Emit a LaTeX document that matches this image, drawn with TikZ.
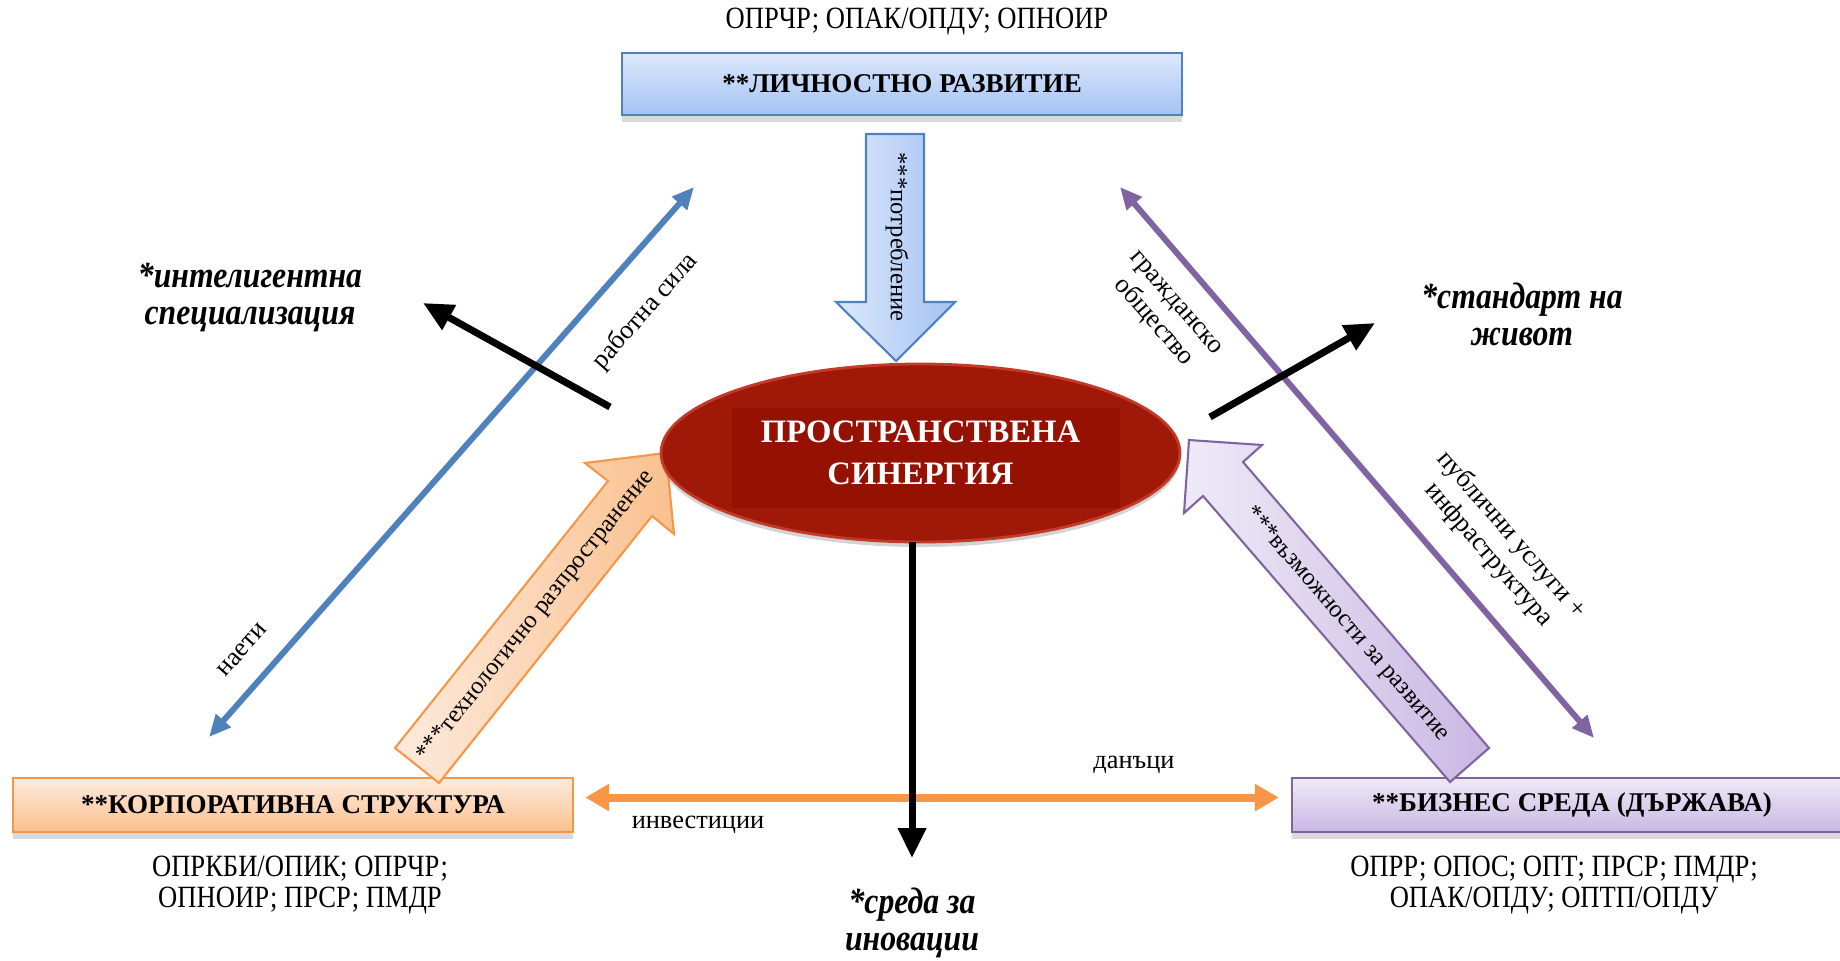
\documentclass[tikz,border=0pt]{standalone}
\usepackage{fontspec}
\setmainfont{Liberation Serif}
\newfontfamily\uzki{Liberation Serif}[FakeStretch=0.86]
\usetikzlibrary{arrows.meta,shapes.geometric,shadows}

\definecolor{blueline}{HTML}{4F81BD}
\definecolor{purpline}{HTML}{8064A2}
\definecolor{orline}{HTML}{F79646}
\definecolor{sinred}{HTML}{A01808}
\definecolor{sinredin}{HTML}{951102}
\definecolor{sinrim}{HTML}{C43A28}
\definecolor{bluetop}{HTML}{DDE8FB}
\definecolor{bluebot}{HTML}{A4C2F4}
\definecolor{ortop}{HTML}{FDEBDD}
\definecolor{orbot}{HTML}{FAC08E}
\definecolor{purtop}{HTML}{EFEAF7}
\definecolor{purbot}{HTML}{C9B8E3}

\tikzset{
  kutia/.style={draw, line width=0.7pt, minimum width=5.6cm, minimum height=0.54cm,
    inner sep=0pt, font=\fontsize{7.7}{9}\selectfont\bfseries,
    drop shadow={shadow xshift=0pt, shadow yshift=-0.07cm, opacity=0.3}},
  progtxt/.style={align=center, font=\fontsize{8.8}{8.6}\uzki},
  celtxt/.style={align=center, font=\fontsize{10.5}{10.5}\uzki\bfseries\itshape},
  etiket/.style={align=center, font=\fontsize{7.5}{8.5}\selectfont},
  strtxt/.style={font=\fontsize{7}{8}\selectfont},
  tanka/.style={line width=0.06cm, {Triangle[length=0.22cm,width=0.19cm]}-{Triangle[length=0.22cm,width=0.19cm]}},
  cherna/.style={line width=0.07cm, -{Triangle[length=0.3cm,width=0.27cm]}}
}

\begin{document}
\begin{tikzpicture}
\useasboundingbox (0,0) rectangle (18.4,9.6);
% boxes
\node[progtxt] (lprog) at (9.17,9.38) {ОПРЧР; ОПАК/ОПДУ; ОПНОИР};
\node[kutia, draw=blueline, top color=bluetop, bottom color=bluebot, minimum height=0.62cm] (lich) at (9.02,8.76) {**ЛИЧНОСТНО РАЗВИТИЕ};
\node[kutia, draw=orline, top color=ortop, bottom color=orbot] (korp) at (2.93,1.55) {**КОРПОРАТИВНА СТРУКТУРА};
\node[kutia, draw=purpline, top color=purtop, bottom color=purbot] (biz) at (15.72,1.55) {**БИЗНЕС СРЕДА (ДЪРЖАВА)};
\node[progtxt] (kprog) at (3.00,0.75) {ОПРКБИ/ОПИК; ОПРЧР;\\ОПНОИР; ПРСР; ПМДР};
\node[progtxt] (bprog) at (15.54,0.75) {ОПРР; ОПОС; ОПТ; ПРСР; ПМДР;\\ОПАК/ОПДУ; ОПТП/ОПДУ};

% block arrows
\draw[blueline, line width=0.6pt, left color=bluetop, right color=bluebot]
  (8.66,8.26)--(9.24,8.26)--(9.24,6.58)--(9.55,6.58)--(8.96,5.99)--(8.36,6.58)--(8.66,6.58)--cycle;
\node[strtxt, rotate=-90] (potr) at (8.97,7.23) {***потребление};
\draw[orline, line width=0.6pt, left color=ortop, right color=orbot]
  (3.95,2.12)--(4.39,1.77)--(6.52,4.44)--(6.74,4.26)--(6.66,5.07)--(5.85,4.97)--(6.08,4.79)--cycle;
\node[strtxt, rotate=51.4] (teh) at (5.36,3.44) {***технологично разпространение};
\draw[purpline, line width=0.6pt, left color=purtop, right color=purbot]
  (14.89,2.12)--(14.50,1.78)--(12.03,4.64)--(11.84,4.47)--(11.89,5.20)--(12.62,5.15)--(12.43,4.98)--cycle;
\node[strtxt, rotate=-49.2] (vaz) at (13.47,3.36) {***възможности за развитие};

% centre
\node[ellipse, fill=sinred, draw=sinrim, line width=0.8pt, minimum width=5.19cm, minimum height=1.78cm,
  inner sep=0pt, text=white, align=center, font=\fontsize{9.3}{12}\selectfont\bfseries,
  drop shadow={shadow xshift=0pt, shadow yshift=-0.05cm, opacity=0.35},
  path picture={\fill[sinredin] ([xshift=-1.885cm,yshift=-0.55cm]path picture bounding box.center) rectangle ([xshift=1.995cm,yshift=0.45cm]path picture bounding box.center);}]
  (sin) at (9.205,5.07) {ПРОСТРАНСТВЕНА\\СИНЕРГИЯ};

% thin arrows
\coordinate (nayA) at (2.09,2.23);
\coordinate (nayB) at (6.94,7.73);
\coordinate (grA) at (11.20,7.73);
\coordinate (grB) at (15.94,2.22);
\draw[tanka, blueline] (nayA)--(nayB);
\draw[tanka, purpline] (grA)--(grB);
\draw[orline, line width=0.08cm, {Triangle[length=0.24cm,width=0.26cm]}-{Triangle[length=0.24cm,width=0.26cm]},
  shorten <=0.11cm, shorten >=0.12cm] ([yshift=0.075cm]korp.east)--([yshift=0.075cm]biz.west);

\coordinate (intA) at (6.10,5.53);
\coordinate (intB) at (4.23,6.57);
\coordinate (stdA) at (12.10,5.43);
\coordinate (stdB) at (13.75,6.37);
\coordinate (srA) at (9.12,4.18);
\coordinate (srB) at (9.12,1.02);
\draw[cherna] (intA)--(intB);
\draw[cherna] (stdA)--(stdB);
\draw[cherna] (srA)--(srB);

% labels
\node[etiket, rotate=48.6] (rabsila) at (6.455,6.485) {работна сила};
\node[etiket, rotate=48.6] (nayeti) at (2.42,3.10) {наети};
\node[etiket, rotate=-49] (grajd) at (11.63,6.46) {гражданско\\общество};
\node[etiket, rotate=-49] (publ) at (15.00,4.15) {публични услуги +\\инфраструктура};
\node[etiket] (invest) at (6.98,1.35) {инвестиции};
\node[etiket] (danak) at (11.34,1.95) {данъци};
\node[celtxt] (intel) at (2.50,6.63) {*интелигентна\\специализация};
\node[celtxt] (stand) at (15.22,6.46) {*стандарт на\\живот};
\node[celtxt] (sreda) at (9.12,0.37) {*среда за\\иновации};
\end{tikzpicture}
\end{document}
